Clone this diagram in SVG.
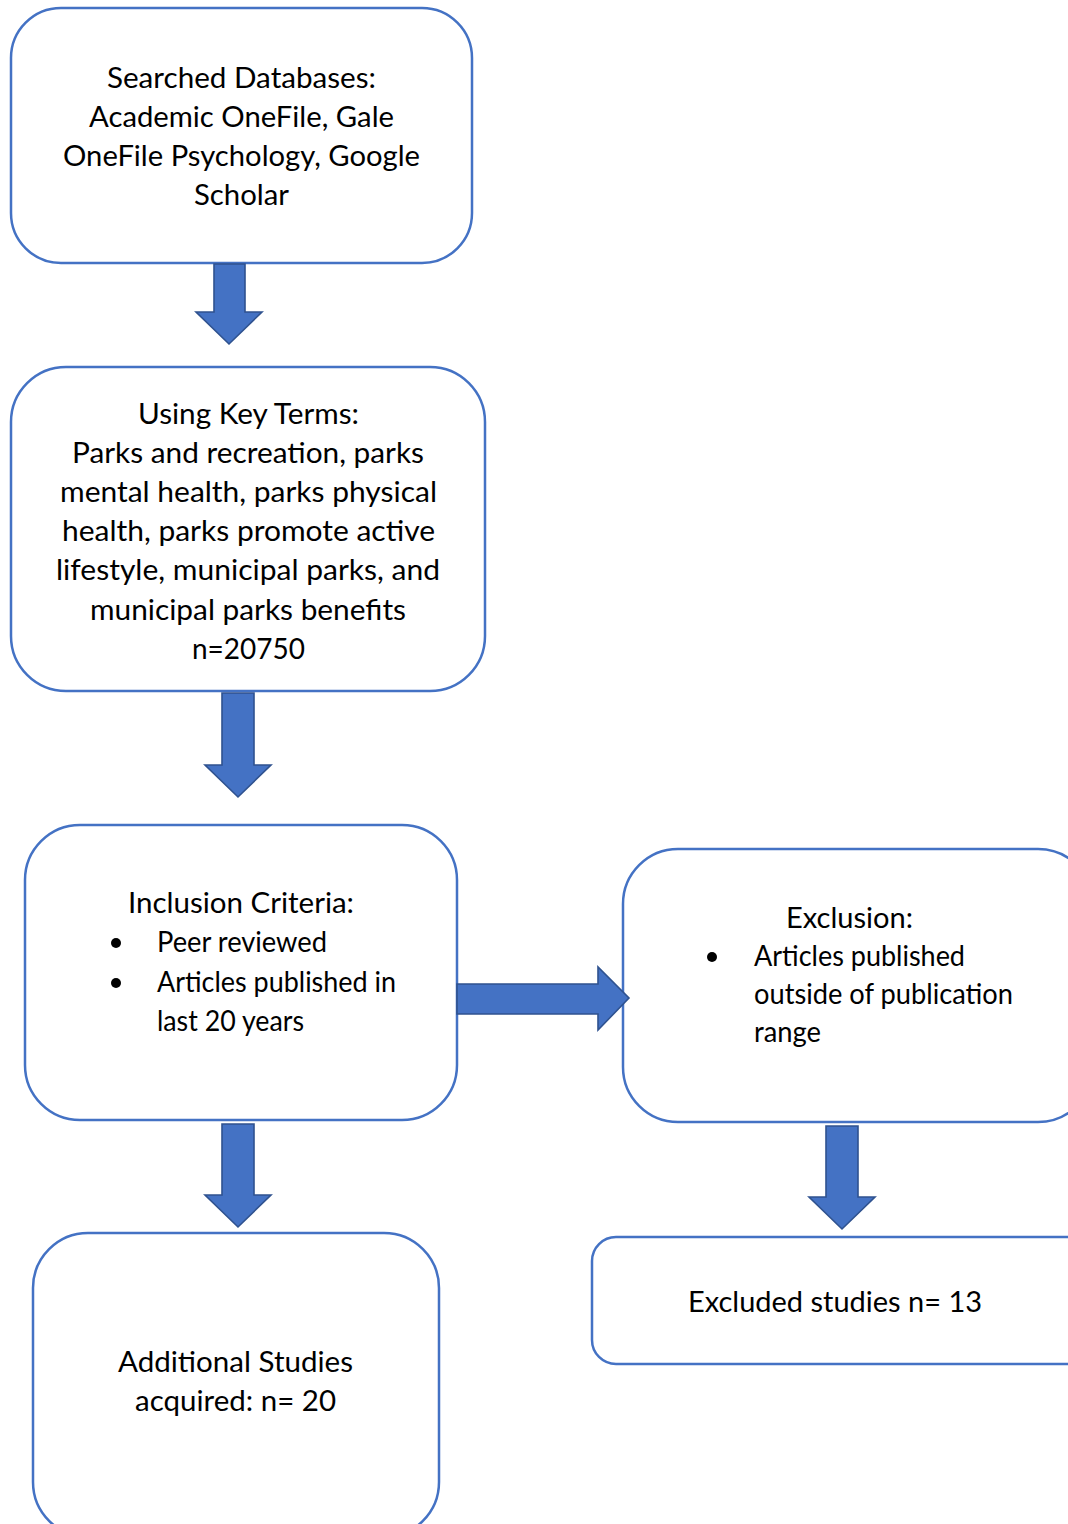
<svg xmlns="http://www.w3.org/2000/svg" width="1068" height="1524" viewBox="0 0 1068 1524">
<style>
.box{fill:#fff;stroke:#4472C4;stroke-width:2.5}
.arr{fill:#4472C4;stroke:#2F528F;stroke-width:1.6;stroke-linejoin:miter}
text{font-family:Lato,"Open Sans","Liberation Sans",sans-serif;font-size:29px;fill:#000}
</style>
<rect width="1068" height="1524" fill="#fff"/>
<g id="n1">
<rect class="box" x="11" y="8" width="461" height="255" rx="50"/>
<text x="107" y="88" textLength="269" lengthAdjust="spacingAndGlyphs">Searched Databases:</text>
<text x="89" y="127" textLength="305" lengthAdjust="spacingAndGlyphs">Academic OneFile, Gale</text>
<text x="63" y="166" textLength="357" lengthAdjust="spacingAndGlyphs">OneFile Psychology, Google</text>
<text x="194" y="205" textLength="95" lengthAdjust="spacingAndGlyphs">Scholar</text>
</g>
<g id="n2">
<rect class="box" x="11" y="367" width="474" height="324" rx="55"/>
<text x="138" y="424" textLength="221" lengthAdjust="spacingAndGlyphs">Using Key Terms:</text>
<text x="72" y="463" textLength="352" lengthAdjust="spacingAndGlyphs">Parks and recreation, parks</text>
<text x="60" y="502" textLength="377" lengthAdjust="spacingAndGlyphs">mental health, parks physical</text>
<text x="62" y="541" textLength="373" lengthAdjust="spacingAndGlyphs">health, parks promote active</text>
<text x="56" y="580" textLength="384" lengthAdjust="spacingAndGlyphs">lifestyle, municipal parks, and</text>
<text x="90" y="620" textLength="316" lengthAdjust="spacingAndGlyphs">municipal parks benefits</text>
<text x="192" y="659" textLength="113" lengthAdjust="spacingAndGlyphs">n=20750</text>
</g>
<g id="n3">
<rect class="box" x="25" y="825" width="432" height="295" rx="55"/>
<text x="128" y="913" textLength="226" lengthAdjust="spacingAndGlyphs">Inclusion Criteria:</text>
<circle cx="116" cy="943" r="5"/>
<text x="157" y="952" textLength="170" lengthAdjust="spacingAndGlyphs">Peer reviewed</text>
<circle cx="116" cy="983" r="5"/>
<text x="157" y="992" textLength="239" lengthAdjust="spacingAndGlyphs">Articles published in</text>
<text x="157" y="1031" textLength="147" lengthAdjust="spacingAndGlyphs">last 20 years</text>
</g>
<g id="n4">
<rect class="box" x="623" y="849" width="470" height="273" rx="55"/>
<text x="786" y="928" textLength="127" lengthAdjust="spacingAndGlyphs">Exclusion:</text>
<circle cx="712" cy="957" r="5"/>
<text x="754" y="966" textLength="211" lengthAdjust="spacingAndGlyphs">Articles published</text>
<text x="754" y="1004" textLength="259" lengthAdjust="spacingAndGlyphs">outside of publication</text>
<text x="754" y="1042" textLength="67" lengthAdjust="spacingAndGlyphs">range</text>
</g>
<g id="n5">
<rect class="box" x="592" y="1237" width="500" height="127" rx="24"/>
<text x="688" y="1312" textLength="294" lengthAdjust="spacingAndGlyphs">Excluded studies n= 13</text>
</g>
<g id="n6">
<rect class="box" x="33" y="1233" width="406" height="304" rx="55"/>
<text x="118" y="1372" textLength="235" lengthAdjust="spacingAndGlyphs">Additional Studies</text>
<text x="135" y="1411" textLength="201" lengthAdjust="spacingAndGlyphs">acquired: n= 20</text>
</g>
<g id="connectors">
<polygon class="arr" points="214,264 245,264 245,312 262,312 229,344 196,312 214,312"/>
<polygon class="arr" points="222,693 254,693 254,765 271,765 238,797 205,765 222,765"/>
<polygon class="arr" points="222,1124 254,1124 254,1195 271,1195 238,1227 205,1195 222,1195"/>
<polygon class="arr" points="457,984 598,984 598,967 629,998 598,1030 598,1014 457,1014"/>
<polygon class="arr" points="826,1126 858,1126 858,1197 875,1197 842,1229 809,1197 826,1197"/>
</g>
</svg>
